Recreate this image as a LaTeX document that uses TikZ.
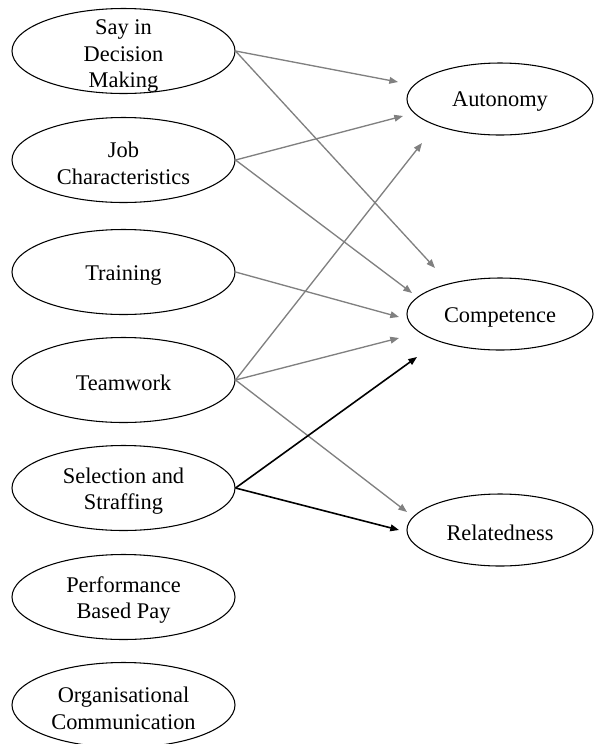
\documentclass[tikz,border=0pt]{standalone}
\usepackage{fontspec}
\setmainfont{Liberation Serif}
\usetikzlibrary{shapes.geometric,arrows.meta}
\definecolor{arrgray}{RGB}{128,128,128}
\tikzset{
  lell/.style={ellipse,draw=black,line width=0.8pt,minimum width=167.25pt,minimum height=63.75pt,inner sep=0pt},
  rell/.style={ellipse,draw=black,line width=0.8pt,minimum width=139.5pt,minimum height=54pt,inner sep=0pt},
  txt/.style={align=center,inner sep=0pt,yshift=-2.25pt,font=\fontsize{16.8}{20}\selectfont},
  garr/.style={draw=arrgray,line width=1pt,-{Triangle[length=6.5pt,width=5pt]},arrgray},
  barr/.style={draw=black,line width=1.2pt,-{Triangle[length=6.5pt,width=5pt]}}
}
\begin{document}
\begin{tikzpicture}[x=0.75pt,y=-0.75pt]
\useasboundingbox (0,0) rectangle (594,744);
% left ellipses
\node[lell] (say) at (123.5,51) {};
\node[txt,yshift=-1.5pt] at (say) {Say in\\Decision\\Making};
\node[lell] (job) at (123.5,160) {};
\node[txt] at (job) {Job\\Characteristics};
\node[lell] (train) at (123.5,272) {};
\node[txt] at (train) {Training};
\node[lell] (team) at (123.5,380) {};
\node[txt] at (team) {Teamwork};
\node[lell] (sel) at (123.5,488) {};
\node[txt] at (sel) {Selection and\\Straffing};
\node[lell] (perf) at (123.5,597) {};
\node[txt] at (perf) {Performance\\Based Pay};
\node[lell] (org) at (123.5,705) {};
\node[txt] at (org) {Organisational\\Communication};
% right ellipses
\node[rell] (aut) at (500,99) {};
\node[txt] at (aut) {Autonomy};
\node[rell] (comp) at (500,314) {};
\node[txt] at (comp) {Competence};
\node[rell] (rel) at (500,530) {};
\node[txt] at (rel) {Relatedness};
% arrow end points
\coordinate (e1) at (398,82);
\coordinate (e2) at (435,268);
\coordinate (e3) at (403,116);
\coordinate (e4) at (412,293);
\coordinate (e5) at (399,317);
\coordinate (e6) at (422,143);
\coordinate (e7) at (399,338);
\coordinate (e8) at (407,512);
\coordinate (e9) at (417,357);
\coordinate (e10) at (399,530);
% connectors
\draw[garr] (say.east) -- (e1);
\draw[garr] (say.east) -- (e2);
\draw[garr] (job.east) -- (e3);
\draw[garr] (job.east) -- (e4);
\draw[garr] (train.east) -- (e5);
\draw[garr] (team.east) -- (e6);
\draw[garr] (team.east) -- (e7);
\draw[garr] (team.east) -- (e8);
\draw[barr] (sel.east) -- (e9);
\draw[barr] (sel.east) -- (e10);
\end{tikzpicture}
\end{document}
